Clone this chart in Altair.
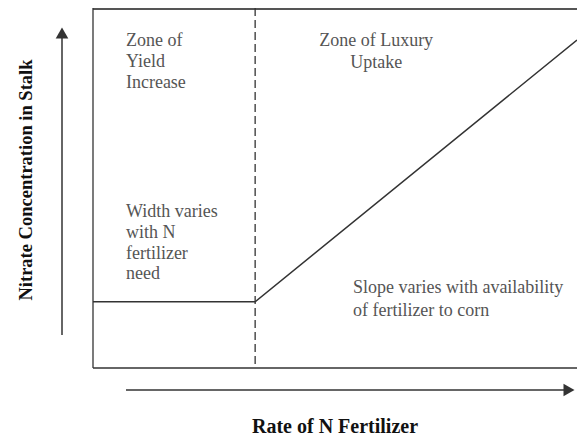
import altair as alt
import pandas as pd

# Response curve (conceptual units: rate 0-100, nitrate 0-100)
curve_rate = [0, 33.5, 100]
curve_nitrate = [18.4, 18.4, 91.1]

# Critical rate (dashed divider)
critical_rate = [33.5]

# Annotations
ann_text = ["Zone of", "Yield", "Increase",
            "Width varies", "with N", "fertilizer", "need",
            "Zone of Luxury", "Uptake",
            "Slope varies with availability", "of fertilizer to corn"]
ann_x = [6.8, 6.8, 6.8, 6.8, 6.8, 6.8, 6.8, 58.5, 58.5, 53.7, 53.7]
ann_y = [90.8, 85.0, 79.2, 43.3, 37.5, 31.8, 26.2, 90.8, 84.7, 22.3, 15.9]
ann_align = ["left"] * 7 + ["center", "center", "left", "left"]

x_title = "Rate of N Fertilizer"
y_title = "Nitrate Concentration in Stalk"

W, H = 484, 360
INK = "#333333"
TXT = "#555555"
SERIF = "Liberation Serif"

xs = alt.Scale(domain=[0, 100], nice=False, zero=False)
ys = alt.Scale(domain=[0, 100], nice=False, zero=False)

curve_df = pd.DataFrame({"rate": curve_rate, "nitrate": curve_nitrate})
crit_df = pd.DataFrame({"rate": critical_rate})
ann_df = pd.DataFrame({"text": ann_text, "x": ann_x, "y": ann_y, "align": ann_align})
one = pd.DataFrame({"a": [0]})

curve = alt.Chart(curve_df).mark_line(color=INK, strokeWidth=1.5).encode(
    x=alt.X("rate:Q", scale=xs, axis=None),
    y=alt.Y("nitrate:Q", scale=ys, axis=None),
)

crit = alt.Chart(crit_df).mark_rule(color=INK, strokeWidth=1.3, strokeDash=[8, 4]).encode(
    x=alt.X("rate:Q", scale=xs, axis=None),
    y=alt.value(0), y2=alt.value(H),
)

def txt(align):
    return alt.Chart(ann_df[ann_df["align"] == align]).mark_text(
        align=align, baseline="middle", font=SERIF, fontSize=18, color=TXT
    ).encode(
        x=alt.X("x:Q", scale=xs, axis=None),
        y=alt.Y("y:Q", scale=ys, axis=None),
        text="text:N",
    )

# Frame (left, top, bottom)
frame_top = alt.Chart(one).mark_rule(color="#555555", strokeWidth=2).encode(
    x=alt.value(0), x2=alt.value(W + 5), y=alt.value(1))
frame_bottom = alt.Chart(one).mark_rule(color=INK, strokeWidth=1.5).encode(
    x=alt.value(0), x2=alt.value(W + 5), y=alt.value(H))
frame_left = alt.Chart(one).mark_rule(color=INK, strokeWidth=1.3).encode(
    x=alt.value(0), y=alt.value(0), y2=alt.value(H))

# Axis arrows
y_shaft = alt.Chart(one).mark_rule(color=INK, strokeWidth=1.5).encode(
    x=alt.value(-31), y=alt.value(30), y2=alt.value(327))
y_head = alt.Chart(one).mark_point(shape="triangle-up", filled=True, size=160,
                                   color=INK, opacity=1).encode(
    x=alt.value(-31), y=alt.value(25))
x_shaft = alt.Chart(one).mark_rule(color=INK, strokeWidth=1.5).encode(
    x=alt.value(33), x2=alt.value(472), y=alt.value(382))
x_head = alt.Chart(one).mark_point(shape="triangle-right", filled=True, size=160,
                                   color=INK, opacity=1).encode(
    x=alt.value(476), y=alt.value(382))

x_lab = alt.Chart(one).mark_text(text=x_title, font=SERIF, fontWeight="bold",
                                 fontSize=20, color="#111111", align="center",
                                 baseline="middle").encode(
    x=alt.value(242), y=alt.value(419))
y_lab = alt.Chart(one).mark_text(text=y_title, font=SERIF, fontWeight="bold",
                                 fontSize=18.5, color="#111111", align="center",
                                 baseline="middle", angle=270).encode(
    x=alt.value(-67), y=alt.value(172))

chart = alt.layer(
    frame_top, frame_bottom, frame_left, crit, curve,
    txt("left"), txt("center"),
    y_shaft, y_head, x_shaft, x_head, x_lab, y_lab,
).properties(
    width=W, height=H,
    autosize=alt.AutoSizeParams(type="none"),
    padding={"left": 85, "top": 0, "right": 0, "bottom": 68},
    background="white",
).configure_view(stroke=None)

chart.save("out.html", embed_options={"renderer": "svg", "actions": False})
